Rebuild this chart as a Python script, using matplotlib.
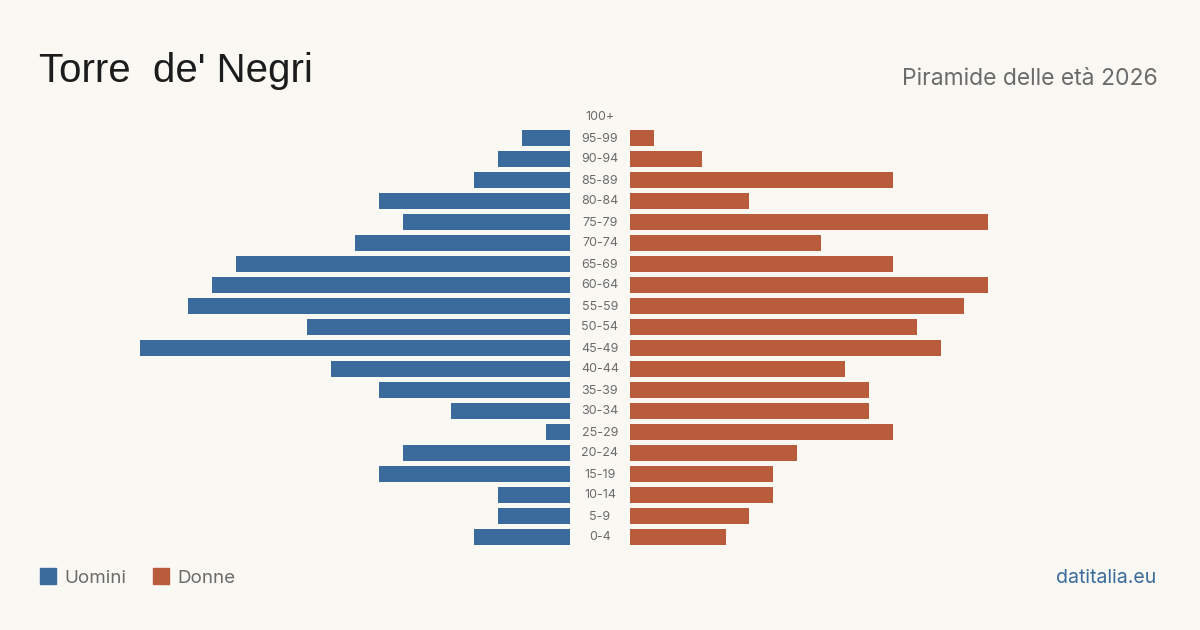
import matplotlib.pyplot as plt
import matplotlib.patches as patches

W, H = 1200, 630
BG = "#f9f8f3"
C_M = "#3a6b9c"
C_F = "#b95c3c"
FONT = ["Inter", "DejaVu Sans"]

ages = ["0-4", "5-9", "10-14", "15-19", "20-24", "25-29", "30-34", "35-39",
        "40-44", "45-49", "50-54", "55-59", "60-64", "65-69", "70-74",
        "75-79", "80-84", "85-89", "90-94", "95-99", "100+"]
uomini = [4, 3, 3, 8, 7, 1, 5, 8, 10, 18, 11, 16, 15, 14, 9, 7, 8, 4, 3, 2, 0]
donne = [4, 5, 6, 6, 7, 11, 10, 10, 9, 13, 12, 14, 15, 11, 8, 15, 5, 11, 3, 1, 0]

xmax = max(max(uomini), max(donne))
pos = list(range(len(ages)))

fig = plt.figure(figsize=(W / 100, H / 100), dpi=100, facecolor=BG)

def fx(px):
    return px / W

def fy(py):
    return 1 - py / H

top, bot = 106.5, 547.5
ax_l = fig.add_axes([fx(140), fy(bot), fx(430), (bot - top) / H])
ax_r = fig.add_axes([fx(630), fy(bot), fx(430), (bot - top) / H])

ax_l.barh(pos, uomini, height=0.8, color=C_M)
ax_r.barh(pos, donne, height=0.8, color=C_F)
ax_l.set_xlim(xmax, 0)
ax_r.set_xlim(0, xmax)
for ax in (ax_l, ax_r):
    ax.set_ylim(-0.5, len(ages) - 0.5)
    ax.axis("off")
    ax.set_facecolor("none")

# etichette centrali
for p, lab in zip(pos, ages):
    y = bot - (p + 0.5) * (bot - top) / len(ages)
    fig.text(fx(600), fy(y + 0.5), lab, ha="center", va="center",
             fontsize=9, color="#6b6b6b", family=FONT)

fig.text(fx(39), fy(82), "Torre  de' Negri", ha="left", va="baseline",
         fontsize=29, color="#1c1c1c", family=["Liberation Sans", "DejaVu Sans"])
fig.text(fx(1158), fy(85), "Piramide delle età 2026", ha="right", va="baseline",
         fontsize=16.5, color="#6b6b6b", family=FONT)

# legenda
fig.add_artist(patches.Rectangle((fx(40), fy(584)), fx(16), 16 / H,
                                 transform=fig.transFigure, color=C_M))
fig.text(fx(64), fy(583), "Uomini", ha="left", va="baseline",
         fontsize=13.5, color="#6b6b6b", family=FONT)
fig.add_artist(patches.Rectangle((fx(153), fy(584)), fx(16), 16 / H,
                                 transform=fig.transFigure, color=C_F))
fig.text(fx(177), fy(583), "Donne", ha="left", va="baseline",
         fontsize=13.5, color="#6b6b6b", family=FONT)

fig.text(fx(1156), fy(583), "datitalia.eu", ha="right", va="baseline",
         fontsize=14, color=C_M, family=FONT)

fig.savefig("out.png", dpi=100, facecolor=BG)
